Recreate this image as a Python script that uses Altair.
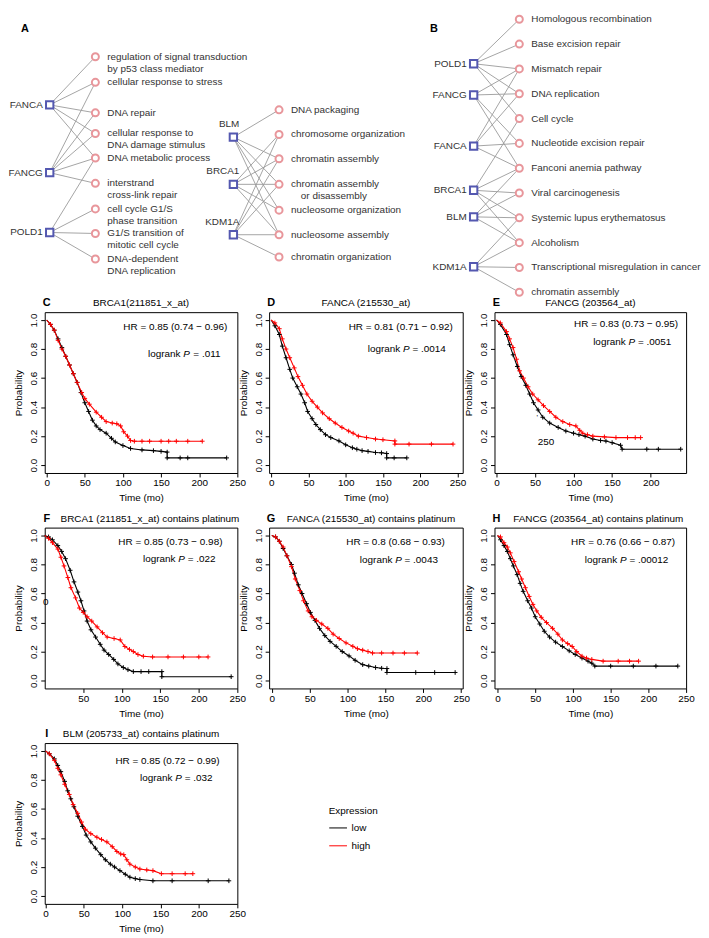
import altair as alt
import pandas as pd

FONT = "Liberation Sans"
NET_TXT = "#333333"
SQ_COL = "#5458b0"
CI_COL = "#e8969b"
EDGE_COL = "#9a9a9a"

# ---------------- Panel A / B : gene - term networks ----------------
# positions are ranks in "row" units (one row = spacing of the panel B list)
A1_terms = ["regulation of signal transduction\nby p53 class mediator",
            "cellular response to stress", "DNA repair",
            "cellular response to\nDNA damage stimulus", "DNA metabolic process",
            "interstrand\ncross-link repair", "cell cycle G1/S\nphase transition",
            "G1/S transition of\nmitotic cell cycle", "DNA-dependent\nDNA replication"]
A1_term_pos = [1.51, 2.54, 3.77, 4.60, 5.59, 6.61, 7.64, 8.63, 9.66]
A1_genes = ["FANCA", "FANCG", "POLD1"]
A1_gene_pos = [3.45, 6.18, 8.59]
A1_links = [[0, 1, 2, 3, 4], [1, 2, 3, 4, 5], [4, 6, 7, 8]]

A2_terms = ["DNA packaging", "chromosome organization", "chromatin assembly",
            "chromatin assembly\n\u200b\u2002\u2002or disassembly", "nucleosome organization",
            "nucleosome assembly", "chromatin organization"]
A2_term_pos = [3.65, 4.64, 5.62, 6.65, 7.69, 8.68, 9.58]
A2_genes = ["BLM", "BRCA1", "KDM1A"]
A2_gene_pos = [4.75, 6.65, 8.68]
A2_links = [[0, 2, 3, 4, 5], [1, 2, 3, 4, 5], [1, 2, 3, 5, 6]]

B_terms = ["Homologous recombination", "Base excision repair", "Mismatch repair",
           "DNA replication", "Cell cycle", "Nucleotide excision repair",
           "Fanconi anemia pathway", "Viral carcinogenesis",
           "Systemic lupus erythematosus", "Alcoholism",
           "Transcriptional misregulation in cancer", "chromatin assembly"]
B_term_pos = [0, 1, 2, 3, 4, 5, 6, 7, 8, 9, 10, 11]
B_genes = ["POLD1", "FANCG", "FANCA", "BRCA1", "BLM", "KDM1A"]
B_gene_pos = [1.79, 3.05, 5.11, 6.89, 7.96, 9.97]
B_links = [[0, 1, 2, 3, 4], [2, 3, 5, 6], [2, 3, 5, 6], [4, 6, 7, 8, 9],
           [6, 7, 8, 9], [8, 9, 10, 11]]

# ---------------- Panels C-I : Kaplan-Meier curves ----------------
km_letters = ["C", "D", "E", "F", "G", "H", "I"]
km_titles = ["BRCA1(211851_x_at)", "FANCA (215530_at)", "FANCG (203564_at)",
             "BRCA1 (211851_x_at) contains platinum",
             "FANCA (215530_at) contains platinum",
             "FANCG (203564_at) contains platinum",
             "BLM (205733_at) contains platinum"]
km_hr = ["HR = 0.85 (0.74 \u2212 0.96)", "HR = 0.81 (0.71 \u2212 0.92)",
         "HR = 0.83 (0.73 \u2212 0.95)", "HR = 0.85 (0.73 \u2212 0.98)",
         "HR = 0.8 (0.68 \u2212 0.93)", "HR = 0.76 (0.66 \u2212 0.87)",
         "HR = 0.85 (0.72 \u2212 0.99)"]
km_p = [".011", ".0014", ".0051", ".022", ".0043", ".00012", ".032"]

C_low_t = [0, 5, 10, 15, 20, 25, 30, 35, 40, 45, 50, 55, 60, 65, 70, 78, 85, 90, 100, 110, 125, 140, 150, 158, 158, 175, 185, 236]
C_low_s = [1.0, 0.97, 0.93, 0.87, 0.81, 0.75, 0.69, 0.63, 0.57, 0.50, 0.43, 0.37, 0.31, 0.27, 0.245, 0.22, 0.185, 0.16, 0.135, 0.115, 0.105, 0.10, 0.095, 0.09, 0.05, 0.05, 0.05, 0.05]
C_high_t = [0, 5, 10, 15, 20, 25, 30, 35, 40, 46, 50, 56, 65, 72, 78, 86, 92, 97, 101, 106, 110, 115, 125, 135, 150, 160, 170, 185, 204]
C_high_s = [1.0, 0.97, 0.93, 0.86, 0.80, 0.75, 0.69, 0.63, 0.57, 0.50, 0.46, 0.42, 0.365, 0.33, 0.30, 0.29, 0.285, 0.27, 0.23, 0.20, 0.17, 0.165, 0.165, 0.165, 0.165, 0.165, 0.165, 0.165, 0.165]

D_low_t = [0, 5, 11, 15, 20, 25, 29, 35, 40, 45, 49, 55, 60, 66, 73, 80, 91, 100, 109, 115, 122, 130, 140, 148, 155, 155, 165, 182]
D_low_s = [1.0, 0.96, 0.90, 0.82, 0.74, 0.66, 0.60, 0.54, 0.49, 0.43, 0.37, 0.32, 0.28, 0.245, 0.21, 0.19, 0.167, 0.14, 0.12, 0.11, 0.10, 0.095, 0.087, 0.085, 0.08, 0.05, 0.05, 0.05]
D_high_t = [0, 5, 11, 15, 20, 25, 31, 36, 42, 48, 55, 62, 69, 78, 86, 95, 104, 110, 117, 128, 140, 150, 166, 166, 185, 215, 244]
D_high_s = [1.0, 0.98, 0.94, 0.87, 0.80, 0.74, 0.67, 0.61, 0.55, 0.49, 0.44, 0.40, 0.36, 0.32, 0.29, 0.26, 0.235, 0.22, 0.20, 0.19, 0.18, 0.175, 0.167, 0.145, 0.145, 0.145, 0.145]

E_low_t = [0, 5, 13, 17, 21.5, 27, 32, 38, 43, 48, 54, 60, 69, 80, 90, 100, 107, 115, 125, 135, 142, 150, 161, 163, 195, 210, 239]
E_low_s = [1.0, 0.97, 0.90, 0.83, 0.76, 0.68, 0.61, 0.55, 0.49, 0.43, 0.38, 0.33, 0.29, 0.26, 0.235, 0.22, 0.21, 0.20, 0.18, 0.17, 0.166, 0.155, 0.137, 0.11, 0.11, 0.11, 0.11]
E_high_t = [0, 5, 13, 17, 21.5, 26, 30, 35, 41, 47, 54, 61, 69, 77, 86, 95, 103, 108, 112, 118, 125, 140, 155, 170, 180, 187]
E_high_s = [1.0, 0.98, 0.92, 0.87, 0.81, 0.73, 0.65, 0.60, 0.54, 0.49, 0.45, 0.41, 0.37, 0.33, 0.30, 0.28, 0.27, 0.24, 0.22, 0.21, 0.20, 0.195, 0.19, 0.19, 0.19, 0.19]

F_low_t = [0, 5, 10, 17, 22, 27, 33, 38, 43, 47, 51, 55, 60, 66, 72, 77, 83, 89.5, 95, 102, 108, 115, 125, 135, 152, 152, 242]
F_low_s = [1.0, 0.99, 0.97, 0.93, 0.89, 0.84, 0.76, 0.68, 0.61, 0.55, 0.48, 0.41, 0.35, 0.30, 0.25, 0.21, 0.18, 0.146, 0.115, 0.09, 0.075, 0.062, 0.062, 0.062, 0.062, 0.027, 0.027]
F_high_t = [0, 5, 10, 17, 21, 25, 30, 34, 40, 45, 50, 55, 61, 68, 75, 81, 90, 98, 104, 110, 115, 121, 128, 140, 160, 180, 200, 212]
F_high_s = [1.0, 0.98, 0.95, 0.906, 0.85, 0.79, 0.71, 0.64, 0.57, 0.50, 0.47, 0.44, 0.41, 0.37, 0.33, 0.30, 0.29, 0.28, 0.235, 0.215, 0.20, 0.18, 0.168, 0.163, 0.163, 0.163, 0.163, 0.163]

G_low_t = [0, 5, 10, 15, 20, 26, 30, 35, 40, 46, 51, 57, 63, 70, 77, 85, 93, 102, 110, 120, 128, 137, 145, 152, 152, 190, 215, 242]
G_low_s = [1.0, 0.99, 0.96, 0.91, 0.86, 0.80, 0.74, 0.66, 0.60, 0.53, 0.47, 0.415, 0.36, 0.31, 0.27, 0.236, 0.20, 0.17, 0.14, 0.11, 0.10, 0.09, 0.085, 0.083, 0.056, 0.056, 0.056, 0.056]
G_high_t = [0, 5, 10, 15, 20, 26, 31, 37, 42, 48, 53, 59, 66, 74, 81, 89, 98, 107, 113, 120, 127, 133, 145, 160, 175, 192]
G_high_s = [1.0, 0.99, 0.96, 0.92, 0.86, 0.785, 0.70, 0.62, 0.55, 0.48, 0.44, 0.415, 0.39, 0.36, 0.32, 0.29, 0.26, 0.236, 0.22, 0.21, 0.20, 0.19, 0.19, 0.19, 0.19, 0.19]

H_low_t = [0, 4, 8.6, 13, 17, 21, 26, 30, 34, 40, 45, 50, 56, 62, 69, 77, 86, 95, 103, 112, 120, 125, 129, 150, 180, 210, 239]
H_low_s = [1.0, 0.97, 0.93, 0.89, 0.84, 0.79, 0.73, 0.67, 0.615, 0.55, 0.50, 0.44, 0.39, 0.34, 0.30, 0.265, 0.235, 0.205, 0.18, 0.155, 0.134, 0.12, 0.10, 0.10, 0.10, 0.10, 0.10]
H_high_t = [0, 4, 8.6, 13, 17, 22, 28, 32, 37, 42, 47, 52, 58, 65, 73, 80, 86, 93, 99, 105, 112, 118, 125, 140, 160, 175, 187]
H_high_s = [1.0, 0.99, 0.95, 0.92, 0.88, 0.82, 0.75, 0.70, 0.64, 0.58, 0.525, 0.48, 0.436, 0.40, 0.36, 0.32, 0.28, 0.255, 0.235, 0.20, 0.168, 0.155, 0.146, 0.134, 0.134, 0.134, 0.134]

I_low_t = [0, 5, 11.6, 16, 20, 25, 29, 33, 37, 42, 48, 53, 59, 65, 72, 78, 84.5, 90, 97, 104, 110, 117, 123, 140, 165, 212, 239]
I_low_s = [1.0, 0.98, 0.945, 0.90, 0.857, 0.79, 0.725, 0.67, 0.615, 0.55, 0.48, 0.42, 0.373, 0.33, 0.285, 0.25, 0.22, 0.20, 0.175, 0.15, 0.13, 0.12, 0.114, 0.105, 0.105, 0.105, 0.105]
I_high_t = [0, 5, 11.6, 16, 20, 25, 31, 36, 42, 47, 52, 59, 67, 73, 80, 87, 93, 98, 102, 106, 110, 117, 123, 132, 140, 151, 165, 182, 192]
I_high_s = [1.0, 0.98, 0.935, 0.88, 0.835, 0.77, 0.70, 0.63, 0.57, 0.51, 0.46, 0.43, 0.405, 0.39, 0.373, 0.34, 0.307, 0.29, 0.285, 0.25, 0.22, 0.20, 0.186, 0.18, 0.175, 0.154, 0.154, 0.154, 0.154]

xt_full = [0, 50, 100, 150, 200, 250]
xt_200 = [0, 50, 100, 150, 200]
xt_no0 = [50, 100, 150, 200, 250]
y_ticks = [0.0, 0.2, 0.4, 0.6, 0.8, 1.0]

# ---------------- helpers ----------------
ARIAL = {"0": .556, "1": .556, "2": .556, "3": .556, "4": .556, "5": .556,
         "6": .556, "7": .556, "8": .556, "9": .556, ".": .278, " ": .278,
         "=": .584, "P": .667}


def tw(s, size=10):
    return sum(ARIAL.get(c, .556) for c in s) * size


ROW_PX = 25.0
TOP_H = 246
TOP_DOMAIN = [-0.24, -0.24 + TOP_H / ROW_PX]
GAP = 46.0   # gene column -> term column distance in px


def network(terms, term_pos, genes, gene_pos, links, width, left_px,
            gene_above=False, letter=None, letter_x=0):
    tnodes = pd.DataFrame({"name": terms, "x": [1.0] * len(terms), "y": term_pos})
    gnodes = pd.DataFrame({"name": genes, "x": [0.0] * len(genes), "y": gene_pos})
    erows = []
    for gi, tl in enumerate(links):
        for ti in tl:
            erows.append({"x0": 0.0, "y0": gene_pos[gi], "x1": 1.0, "y1": term_pos[ti]})
    edf = pd.DataFrame(erows)
    xs = alt.Scale(domain=[-left_px / GAP, (width - left_px) / GAP], nice=False, zero=False)
    ys = alt.Scale(domain=TOP_DOMAIN, nice=False, zero=False, reverse=True)
    X = alt.X("x:Q", scale=xs, axis=None)
    Y = alt.Y("y:Q", scale=ys, axis=None)
    edges = alt.Chart(edf).mark_rule(color=EDGE_COL, strokeWidth=0.9).encode(
        x=alt.X("x0:Q", scale=xs, axis=None), x2="x1:Q",
        y=alt.Y("y0:Q", scale=ys, axis=None), y2="y1:Q")
    circles = alt.Chart(tnodes).mark_point(
        shape="circle", size=50, filled=True, fill="white", stroke=CI_COL,
        strokeWidth=2, opacity=1).encode(x=X, y=Y)
    squares = alt.Chart(gnodes).mark_point(
        shape="square", size=55, filled=True, fill="white", stroke=SQ_COL,
        strokeWidth=2, opacity=1).encode(x=X, y=Y)
    tlabels = alt.Chart(tnodes).mark_text(
        align="left", baseline="middle", dx=12, fontSize=10, font=FONT,
        lineBreak="\n", lineHeight=12, color=NET_TXT).encode(x=X, y=Y, text="name:N")
    if gene_above:
        glabels = alt.Chart(gnodes).mark_text(
            align="right", baseline="middle", dx=6, dy=-13, fontSize=10, font=FONT,
            color=NET_TXT).encode(x=X, y=Y, text="name:N")
    else:
        glabels = alt.Chart(gnodes).mark_text(
            align="right", baseline="middle", dx=-7, fontSize=10, font=FONT,
            color=NET_TXT).encode(x=X, y=Y, text="name:N")
    layers = [edges, circles, squares, tlabels, glabels]
    if letter:
        layers.append(alt.Chart(pd.DataFrame({"l": [letter]})).mark_text(
            fontWeight="bold", fontSize=11, font=FONT, baseline="middle",
            align="center", color="black").encode(
            text="l:N", x=alt.value(letter_x), y=alt.value(16)))
    return alt.layer(*layers).properties(width=width, height=TOP_H)


KM_H = 162


def km_panel(k, low_t, low_s, high_t, high_s, width, xdom, xticks,
             hr_right=10, hr_y=15, lr_y=33, title_dx=0, legend=False, extras=None):
    rows = []
    for grp, ts, ss in (("low", low_t, low_s), ("high", high_t, high_s)):
        for i, (t, s) in enumerate(zip(ts, ss)):
            rows.append({"t": t, "s": s, "grp": grp, "idx": i})
    df = pd.DataFrame(rows)
    cscale = alt.Scale(domain=["low", "high"], range=["#000000", "#ff0000"])
    xenc = alt.X("t:Q", scale=alt.Scale(domain=xdom, nice=False, zero=False),
                 axis=alt.Axis(values=xticks, title="Time (mo)", grid=False, domain=False,
                               tickSize=4, tickColor="black", labelPadding=1,
                               labelFontSize=10, labelColor="black", labelFlush=False,
                               titleFontSize=10, titleFontWeight="normal",
                               titleColor="black", titlePadding=5, labelFont=FONT,
                               titleFont=FONT))
    yenc = alt.Y("s:Q", scale=alt.Scale(domain=[-0.054, 1.054], nice=False, zero=False),
                 axis=alt.Axis(values=y_ticks, format=".1f", title="Probability",
                               grid=False, domain=False, tickSize=4, tickColor="black",
                               labelAngle=270, labelAlign="center", labelBaseline="bottom",
                               labelPadding=2, labelFontSize=10, labelColor="black",
                               labelFlush=False, titleFontSize=10,
                               titleFontWeight="normal", titleColor="black",
                               titlePadding=5, labelFont=FONT, titleFont=FONT))
    if legend:
        leg = alt.Legend(title="Expression", orient="none", legendX=286, legendY=63,
                         symbolType="stroke", symbolSize=320, symbolStrokeWidth=1,
                         labelFontSize=10, titleFontSize=10, titleFontWeight="normal",
                         labelFont=FONT, titleFont=FONT, titlePadding=3, rowPadding=3,
                         labelOffset=4, padding=0, titleColor="black", labelColor="black")
    else:
        leg = None
    lines = alt.Chart(df).mark_line(strokeWidth=1.1).encode(
        x=xenc, y=yenc, color=alt.Color("grp:N", scale=cscale, legend=leg),
        order="idx:Q")
    cens = alt.Chart(df).transform_filter("datum.t > 0").mark_point(
        shape="M-1,0H1M0,-1V1", size=22, filled=False, strokeWidth=1, opacity=1).encode(
        x=xenc, y=yenc, color=alt.Color("grp:N", scale=cscale, legend=None))
    hr = alt.Chart(pd.DataFrame({"txt": [km_hr[k]]})).mark_text(
        align="right", baseline="middle", fontSize=10, font=FONT, color="black").encode(
        text="txt:N", x=alt.value(width - hr_right), y=alt.value(hr_y))
    p_txt = "= " + km_p[k]
    r_edge = width - hr_right - 7
    p3 = alt.Chart(pd.DataFrame({"txt": [p_txt]})).mark_text(
        align="right", baseline="middle", fontSize=10, font=FONT, color="black").encode(
        text="txt:N", x=alt.value(r_edge), y=alt.value(lr_y))
    x_p = r_edge - tw(p_txt) - tw(" ")
    p2 = alt.Chart(pd.DataFrame({"txt": ["P"]})).mark_text(
        align="right", baseline="middle", fontSize=10, font=FONT, fontStyle="italic",
        color="black").encode(text="txt:N", x=alt.value(x_p), y=alt.value(lr_y))
    x_l = x_p - tw("P") - tw(" ")
    p1 = alt.Chart(pd.DataFrame({"txt": ["logrank"]})).mark_text(
        align="right", baseline="middle", fontSize=10, font=FONT, color="black").encode(
        text="txt:N", x=alt.value(x_l), y=alt.value(lr_y))
    let = alt.Chart(pd.DataFrame({"txt": [km_letters[k]]})).mark_text(
        align="center", baseline="middle", fontSize=11, fontWeight="bold", font=FONT,
        color="black").encode(text="txt:N", x=alt.value(2), y=alt.value(-9))
    layers = [lines, cens, hr, p1, p2, p3, let]
    for (txt, ex, ey, fs) in (extras or []):
        layers.append(alt.Chart(pd.DataFrame({"txt": [txt]})).mark_text(
            align="center", baseline="middle", fontSize=fs, font=FONT, color="black").encode(
            text="txt:N", x=alt.value(ex), y=alt.value(ey)))
    return alt.layer(*layers).properties(
        width=width, height=KM_H,
        title=alt.TitleParams(km_titles[k], fontSize=10, fontWeight="normal", font=FONT,
                              anchor="middle", offset=-11, dx=title_dx, color="black",
                              frame="group"),
        view=alt.ViewBackground(stroke="black", strokeWidth=1))


COLSP = 32
ROWSP = 55
W1, W2, W3 = 194, 195, 193

# networks (each sits in a grid column; gene column offset from column start)
netA1 = network(A1_terms, A1_term_pos, A1_genes, A1_gene_pos, A1_links, W1, 5,
                letter="A", letter_x=-20)
netA2 = network(A2_terms, A2_term_pos, A2_genes, A2_gene_pos, A2_links, W2, -36,
                gene_above=True)
netB = network(B_terms, B_term_pos, B_genes, B_gene_pos, B_links, W3, -21,
               letter="B", letter_x=-61)

pC = km_panel(0, C_low_t, C_low_s, C_high_t, C_high_s, W1, [-2.5, 250], xt_full,
              hr_right=10, lr_y=42)
pD = km_panel(1, D_low_t, D_low_s, D_high_t, D_high_s, W2, [-2.7, 257], xt_full,
              hr_right=10, lr_y=37)
pE = km_panel(2, E_low_t, E_low_s, E_high_t, E_high_s, W3, [-2.6, 246], xt_200,
              hr_right=8, hr_y=12, lr_y=30, extras=[("250", 52, 131, 10), ("'", 43, 107, 8)])
pF = km_panel(3, F_low_t, F_low_s, F_high_t, F_high_s, W1, [0, 250], xt_no0,
              hr_right=15, lr_y=32, title_dx=9, extras=[("0", 1, 75, 10)])
pG = km_panel(4, G_low_t, G_low_s, G_high_t, G_high_s, W2, [-3.5, 252], xt_full,
              hr_right=18, lr_y=33, title_dx=5)
pH = km_panel(5, H_low_t, H_low_s, H_high_t, H_high_s, W3, [-4, 250], xt_full,
              hr_right=11, lr_y=33, title_dx=8)
pI = km_panel(6, I_low_t, I_low_s, I_high_t, I_high_s, W1, [-1, 250], xt_full,
              hr_right=18, hr_y=18, lr_y=35, legend=True)

chart = alt.concat(
    netA1, netA2, netB, pC, pD, pE, pF, pG, pH, pI,
    columns=3, align="each", bounds="flush",
    spacing=alt.RowColnumber(row=ROWSP, column=COLSP),
).resolve_scale(x="independent", y="independent", color="independent").properties(
    padding=0).configure(font=FONT, view=alt.ViewConfig(stroke=None))

chart.save("out.html", embed_options={"renderer": "svg", "actions": False})
